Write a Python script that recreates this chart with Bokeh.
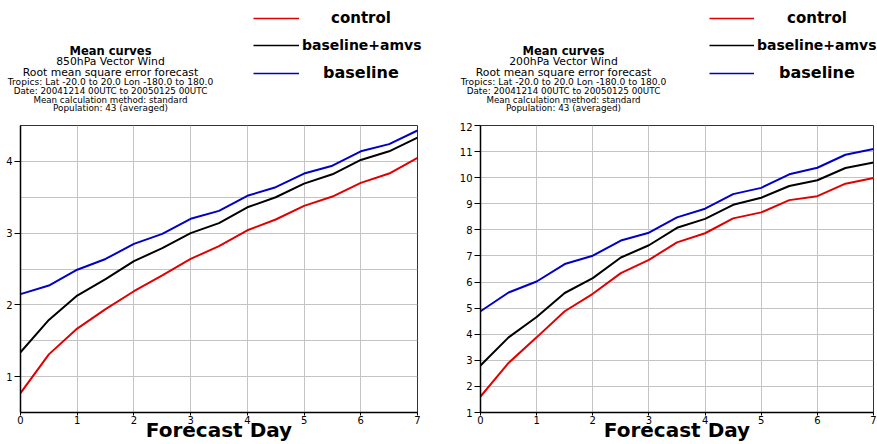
from bokeh.plotting import figure
from bokeh.layouts import row, column
from bokeh.models import Range1d, FixedTicker, SingleIntervalTicker, Label, Legend, LegendItem
from bokeh.embed import file_html
from bokeh.resources import INLINE

# ---------------- data ----------------
days = [0, 0.5, 1, 1.5, 2, 2.5, 3, 3.5, 4, 4.5, 5, 5.5, 6, 6.5, 7]
day_ticks = [0, 1, 2, 3, 4, 5, 6, 7]
series_names = ["control", "baseline+amvs", "baseline"]

# 850 hPa vector wind RMSE
control_850 = [0.77, 1.31, 1.67, 1.94, 2.19, 2.41, 2.64, 2.82, 3.04, 3.19, 3.38, 3.51, 3.70, 3.83, 4.05]
amvs_850 = [1.34, 1.79, 2.13, 2.36, 2.61, 2.79, 3.00, 3.14, 3.36, 3.50, 3.69, 3.82, 4.02, 4.14, 4.33]
baseline_850 = [2.15, 2.27, 2.49, 2.64, 2.85, 2.99, 3.20, 3.31, 3.52, 3.64, 3.83, 3.94, 4.14, 4.24, 4.43]
yticks_850 = [1, 2, 3, 4]

# 200 hPa vector wind RMSE
control_200 = [1.61, 2.90, 3.88, 4.88, 5.55, 6.34, 6.85, 7.52, 7.87, 8.44, 8.67, 9.14, 9.29, 9.77, 9.99]
amvs_200 = [2.80, 3.88, 4.66, 5.58, 6.15, 6.94, 7.41, 8.08, 8.42, 8.96, 9.23, 9.68, 9.90, 10.37, 10.58]
baseline_200 = [4.88, 5.60, 6.02, 6.69, 7.01, 7.59, 7.89, 8.48, 8.81, 9.37, 9.61, 10.13, 10.38, 10.88, 11.10]
yticks_200 = [1, 2, 3, 4, 5, 6, 7, 8, 9, 10, 11, 12]

common_lines = [
    "Root mean square error forecast",
    "Tropics: Lat -20.0 to 20.0 Lon -180.0 to 180.0",
    "Date: 20041214 00UTC to 20050125 00UTC",
    "Mean calculation method: standard",
    "Population: 43 (averaged)",
]
title_850 = ["Mean curves", "850hPa Vector Wind"] + common_lines
title_200 = ["Mean curves", "200hPa Vector Wind"] + common_lines
x_label = "Forecast Day"

# ---------------- styling ----------------
COLORS = ["#e00000", "#000000", "#0000c8"]
FONT = "DejaVu Sans"
HEADER_H = 122
TITLE_SIZES = ["11.5px", "10.8px", "10.8px", "9.1px", "8.8px", "8.7px", "8.85px"]
TITLE_BASELINES = [50.5, 61, 72, 81.5, 90, 99, 107.5]   # px from top of header
LEG_SIZES = ["15px", "14px", "16px"]
LEG_CENTERS = [18, 44.7, 72.5]                        # px from top of header


def add_header_block(h, title_lines, title_cx, leg_x, leg_glyph_w, leg_standoffs):
    for i, line in enumerate(title_lines):
        h.add_layout(Label(x=title_cx, y=HEADER_H - TITLE_BASELINES[i],
                           x_units="screen", y_units="screen", text=line,
                           text_font=FONT, text_font_size=TITLE_SIZES[i],
                           text_font_style="bold" if i == 0 else "normal",
                           text_align="center", text_baseline="alphabetic",
                           text_color="black"))
    # legend keys share the series styles (nothing is drawn in the header itself)
    for i, (name, col) in enumerate(zip(series_names, COLORS)):
        key = h.line(x=[float("nan")], y=[float("nan")], line_color=col, line_width=1.6)
        leg = Legend(items=[LegendItem(label=name, renderers=[key])],
                     location=(leg_x, HEADER_H - LEG_CENTERS[i] - 10),
                     orientation="vertical", glyph_width=leg_glyph_w, glyph_height=20,
                     label_height=20, label_width=10, label_standoff=leg_standoffs[i],
                     label_text_font=FONT, label_text_font_style="bold",
                     label_text_font_size=LEG_SIZES[i], label_text_color="black",
                     padding=0, margin=0, spacing=0,
                     border_line_alpha=0, background_fill_alpha=0)
        h.add_layout(leg)


def make_plot(series, y_start, y_end, y_ticks, grid_step, width, b_left, b_right, b_top):
    p = figure(width=width, height=444 - HEADER_H, output_backend="svg", toolbar_location=None,
               x_range=Range1d(0, 7), y_range=Range1d(y_start, y_end),
               min_border_left=b_left, min_border_right=b_right,
               min_border_top=b_top, min_border_bottom=31,
               background_fill_color="white", border_fill_color="white")
    p.outline_line_color = "#333333"
    p.outline_line_width = 1

    p.xaxis.ticker = FixedTicker(ticks=day_ticks)
    p.yaxis.ticker = FixedTicker(ticks=y_ticks)
    p.xgrid.ticker = FixedTicker(ticks=day_ticks)
    p.ygrid.ticker = SingleIntervalTicker(interval=grid_step)
    for g in (p.xgrid, p.ygrid):
        g.grid_line_color = "#c4c4c4"
        g.grid_line_width = 1

    for ax in (p.xaxis, p.yaxis):
        ax.axis_line_color = "black"
        ax.axis_line_width = 1.5
        ax.major_tick_line_color = "black"
        ax.minor_tick_line_color = None
        ax.major_tick_in = 0
        ax.major_label_text_font = FONT
        ax.major_label_text_font_size = "10px"
        ax.major_label_text_color = "black"
    p.yaxis.major_tick_out = 6
    p.yaxis.major_label_standoff = 2
    p.xaxis.major_tick_out = 3
    p.xaxis.major_label_standoff = 0

    p.xaxis.axis_label = x_label
    p.xaxis.axis_label_text_font = FONT
    p.xaxis.axis_label_text_font_style = "bold"
    p.xaxis.axis_label_text_font_size = "20px"
    p.xaxis.axis_label_text_color = "black"
    p.xaxis.axis_label_standoff = -9

    for vals, col in zip(series, COLORS):
        p.line(days, vals, line_color=col, line_width=2)
    return p


header = figure(width=877, height=HEADER_H, output_backend="svg", toolbar_location=None,
                x_range=Range1d(0, 1), y_range=Range1d(0, 1),
                x_axis_location=None, y_axis_location=None,
                min_border=0, min_border_left=0, min_border_right=0,
                min_border_top=0, min_border_bottom=0,
                background_fill_color="white", border_fill_color="white")
header.outline_line_color = None
header.xgrid.visible = False
header.ygrid.visible = False
add_header_block(header, title_850, title_cx=110, leg_x=253, leg_glyph_w=46,
                 leg_standoffs=[32, 3, 24])
add_header_block(header, title_200, title_cx=563, leg_x=709, leg_glyph_w=45,
                 leg_standoffs=[33, 3, 25])

left = make_plot([control_850, amvs_850, baseline_850], 0.5, 4.5, yticks_850, 0.5,
                 width=456, b_left=20, b_right=39, b_top=2)
right = make_plot([control_200, amvs_200, baseline_200], 1, 12, yticks_200, 1,
                  width=421, b_left=21, b_right=4, b_top=3)

layout = column(header, row(left, right, spacing=0), spacing=0)
open("out.html", "w").write(file_html(layout, INLINE))
